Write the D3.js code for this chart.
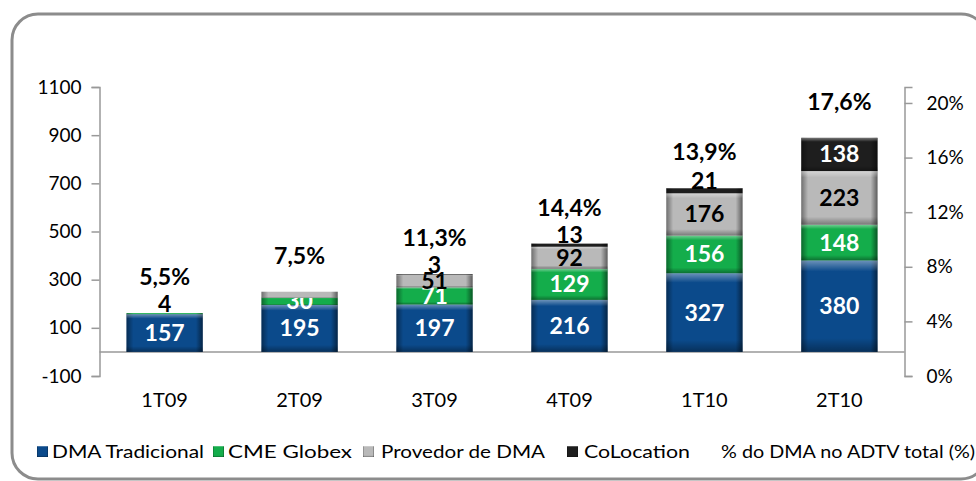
<!DOCTYPE html>
<html>
<head>
<meta charset="UTF-8">
<title>DMA</title>
<script src="https://cdn.jsdelivr.net/npm/d3@7"></script>
<style>
  body { margin: 0; background: #fff; }
  text { font-family: Lato, "Open Sans", sans-serif; }
</style>
</head>
<body>
<div id="chart"></div>
<script>
// data
var quarters = ["1T09", "2T09", "3T09", "4T09", "1T10", "2T10"];
var seriesNames = ["DMA Tradicional", "CME Globex", "Provedor de DMA", "CoLocation"];
var dmaTradicional = [157, 195, 197, 216, 327, 380];
var cmeGlobex = [4, 30, 71, 129, 156, 148];
var provedorDma = [0, 25, 51, 92, 176, 223];
var coLocation = [0, 0, 3, 13, 21, 138];
var pctAdtv = [0.055, 0.075, 0.113, 0.144, 0.139, 0.176];
var pctLabels = ["5,5%", "7,5%", "11,3%", "14,4%", "13,9%", "17,6%"];
var leftTicks = [-100, 100, 300, 500, 700, 900, 1100];
var rightTicks = [0, 0.04, 0.08, 0.12, 0.16, 0.20];
// segments the original leaves without a label
var unlabeled = [["Provedor de DMA", "2T09"]];

var W = 976, H = 481;
var colors = ["#0b4a8b", "#14ad4b", "#b9b9b9", "#1e1e1e"];
var labelColors = ["#fff", "#fff", "#000", "#fff"];

var svg = d3.select("#chart").append("svg")
    .attr("width", W).attr("height", H);

// frame
svg.append("rect")
    .attr("x", 12).attr("y", 14)
    .attr("width", 975).attr("height", 465)
    .attr("rx", 26).attr("ry", 26)
    .attr("fill", "none")
    .attr("stroke", "#8c8c8c")
    .attr("stroke-width", 3);

var defs = svg.append("defs");
var hg = defs.append("linearGradient").attr("id", "hshade");
hg.append("stop").attr("offset", "0%").attr("stop-color", "#000").attr("stop-opacity", 0.4);
hg.append("stop").attr("offset", "9%").attr("stop-color", "#000").attr("stop-opacity", 0);
hg.append("stop").attr("offset", "91%").attr("stop-color", "#000").attr("stop-opacity", 0);
hg.append("stop").attr("offset", "100%").attr("stop-color", "#000").attr("stop-opacity", 0.5);
var vg = defs.append("linearGradient").attr("id", "vshade")
    .attr("x1", 0).attr("y1", 0).attr("x2", 0).attr("y2", 1);
vg.append("stop").attr("offset", "0%").attr("stop-color", "#fff").attr("stop-opacity", 0.4);
vg.append("stop").attr("offset", "12%").attr("stop-color", "#fff").attr("stop-opacity", 0);
vg.append("stop").attr("offset", "85%").attr("stop-color", "#000").attr("stop-opacity", 0);
vg.append("stop").attr("offset", "100%").attr("stop-color", "#000").attr("stop-opacity", 0.35);

var x0 = 99.5, x1 = 904.5, yTop = 87, yBot = 376;

var x = d3.scaleBand().domain(quarters).range([x0, x1]).paddingInner(0.435).paddingOuter(0.2);
var y = d3.scaleLinear().domain([-100, 1100]).range([yBot, yTop]);
var y2 = d3.scaleLinear().domain([0, 0.2117]).range([yBot, yTop]);

// axes
var axisL = svg.append("g").attr("transform", "translate(" + x0 + ",0)")
    .call(d3.axisLeft(y).tickValues(leftTicks).tickSize(8).tickPadding(10)
        .tickFormat(function (d) { return String(d); }));
var axisR = svg.append("g").attr("transform", "translate(" + x1 + ",0)")
    .call(d3.axisRight(y2).tickValues(rightTicks).tickSize(8).tickPadding(14)
        .tickFormat(function (d) { return Math.round(d * 100) + "%"; }));
[axisL, axisR].forEach(function (a) {
    a.select(".domain").attr("stroke", "#999").attr("stroke-width", 1.5);
    a.selectAll(".tick line").attr("stroke", "#999").attr("stroke-width", 1.5);
    a.selectAll(".tick text").attr("font-size", 19).attr("fill", "#000")
        .attr("font-family", "Lato, sans-serif");
});

// zero line
svg.append("line")
    .attr("x1", x0).attr("x2", x1)
    .attr("y1", y(0)).attr("y2", y(0))
    .attr("stroke", "#999").attr("stroke-width", 1.5);

// stack
var rows = quarters.map(function (q, i) {
    return { q: q, "DMA Tradicional": dmaTradicional[i], "CME Globex": cmeGlobex[i],
        "Provedor de DMA": provedorDma[i], "CoLocation": coLocation[i] };
});
var stack = d3.stack().keys(seriesNames)(rows);

var layers = svg.selectAll(".layer").data(stack).enter().append("g").attr("class", "layer");
var segs = layers.selectAll("g.seg")
    .data(function (s, si) { return s.map(function (d) { return { d: d, si: si, key: s.key }; }); })
    .enter().append("g").attr("class", "seg")
    .filter(function (o) { return o.d[1] - o.d[0] > 0; });

segs.each(function (o) {
    var g = d3.select(this);
    var bx = x(o.d.data.q), bw = x.bandwidth();
    var by = y(o.d[1]), bh = y(o.d[0]) - y(o.d[1]);
    g.append("rect").attr("x", bx).attr("y", by).attr("width", bw).attr("height", bh)
        .attr("fill", colors[o.si]);
    g.append("rect").attr("x", bx).attr("y", by).attr("width", bw).attr("height", bh)
        .attr("fill", "url(#hshade)");
    g.append("rect").attr("x", bx).attr("y", by).attr("width", bw).attr("height", bh)
        .attr("fill", "url(#vshade)");
});

// segment labels
segs.filter(function (o) {
        return !unlabeled.some(function (u) { return u[0] === o.key && u[1] === o.d.data.q; });
    })
    .append("text")
    .attr("x", function (o) { return x(o.d.data.q) + x.bandwidth() / 2; })
    .attr("y", function (o) {
        var v = o.d[1] - o.d[0];
        var c = y((o.d[0] + o.d[1]) / 2);
        return (v < 25 ? c - 10 : c);
    })
    .attr("dy", "0.35em")
    .attr("text-anchor", "middle")
    .attr("font-size", 23)
    .attr("font-weight", "bold")
    .attr("fill", function (o) {
        var v = o.d[1] - o.d[0];
        return v < 25 ? "#000" : labelColors[o.si];
    })
    .text(function (o) { return o.d[1] - o.d[0]; });

// % labels above stacks
var totals = rows.map(function (r) {
    return d3.sum(seriesNames, function (k) { return r[k]; });
});
svg.selectAll(".pct").data(pctAdtv).enter().append("text")
    .attr("class", "pct")
    .attr("x", function (d, i) { return x(quarters[i]) + x.bandwidth() / 2; })
    .attr("y", function (d, i) { return y(totals[i]) - 36; })
    .attr("dy", "0.35em")
    .attr("text-anchor", "middle")
    .attr("font-size", 23)
    .attr("font-weight", "bold")
    .text(function (d, i) { return pctLabels[i]; });

// category labels
svg.selectAll(".cat").data(quarters).enter().append("text")
    .attr("x", function (d) { return x(d) + x.bandwidth() / 2; })
    .attr("y", 400)
    .attr("dy", "0.35em")
    .attr("text-anchor", "middle")
    .attr("font-size", 20)
    .text(function (d) { return d; });

// legend
var legendItems = [
    { name: "DMA Tradicional", sx: 37, tx: 52, tw: 152, c: 0 },
    { name: "CME Globex", sx: 213, tx: 228, tw: 124, c: 1 },
    { name: "Provedor de DMA", sx: 363, tx: 381, tw: 164, c: 2 },
    { name: "CoLocation", sx: 567, tx: 584, tw: 106, c: 3 },
    { name: "% do DMA no ADTV total (%)", sx: null, tx: 721, tw: 254, c: null }
];
var lg = svg.append("g");
legendItems.forEach(function (it) {
    if (it.c !== null) {
        [colors[it.c], "url(#hshade)", "url(#vshade)"].forEach(function (f) {
            lg.append("rect").attr("x", it.sx).attr("y", 446).attr("width", 11).attr("height", 11)
                .attr("fill", f);
        });
    }
    lg.append("text")
        .attr("x", it.tx).attr("y", 452).attr("dy", "0.35em")
        .attr("font-size", 17)
        .attr("textLength", it.tw).attr("lengthAdjust", "spacingAndGlyphs")
        .text(it.name);
});
</script>
</body>
</html>
